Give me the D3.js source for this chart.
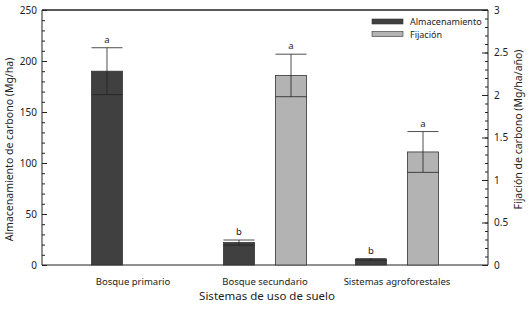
<!DOCTYPE html>
<html>
<head>
<meta charset="utf-8">
<script src="https://cdn.jsdelivr.net/npm/d3@7"></script>
<style>
  body { margin: 0; background: #fff; }
  svg text { font-family: "Noto Sans", sans-serif; fill: #222; }
</style>
</head>
<body>
<div id="chart"></div>
<script>
var categories = ["Bosque primario", "Bosque secundario", "Sistemas agroforestales"];
var series = ["Almacenamiento", "Fijación"];
var almacenamiento = [190, 22, 5.5];
var almacenamientoErr = [23, 2.5, 0.8];
var almacenamientoLetra = ["a", "b", "b"];
var fijacion = [null, 2.23, 1.33];
var fijacionErr = [null, 0.25, 0.24];
var fijacionLetra = [null, "a", "a"];
var leftTicks = [0, 50, 100, 150, 200, 250];
var rightTicks = [0, 0.5, 1, 1.5, 2, 2.5, 3];

var W = 528, H = 312;
var margin = {top: 10, right: 40, bottom: 47, left: 42},
    width = W - margin.left - margin.right,
    height = H - margin.top - margin.bottom;

var colors = {"Almacenamiento": "#404040", "Fijación": "#b3b3b3"};

var svg = d3.select("#chart")
    .append("svg")
    .attr("width", W)
    .attr("height", H)
    .append("g")
    .attr("transform", "translate(" + margin.left + "," + margin.top + ")");

var x0 = d3.scaleBand()
    .domain(categories)
    .range([0, width])
    .paddingInner(0.371)
    .paddingOuter(0.375);

var x1 = d3.scaleBand()
    .domain(series)
    .range([0, x0.bandwidth()])
    .paddingInner(0.404);

var yL = d3.scaleLinear().domain([0, 250]).range([height, 0]);
var yR = d3.scaleLinear().domain([0, 3]).range([height, 0]);

// minor ticks
svg.append("g")
    .call(d3.axisRight(yL).tickValues(d3.range(0, 251, 10)).tickSize(3).tickFormat(""))
    .call(function(g) { g.select(".domain").remove(); });
svg.append("g")
    .attr("transform", "translate(" + width + ",0)")
    .call(d3.axisLeft(yR).tickValues(d3.range(0, 31, 1).map(function(d) { return d / 10; })).tickSize(3).tickFormat(""))
    .call(function(g) { g.select(".domain").remove(); });

// major ticks + labels
var leftAxis = svg.append("g")
    .call(d3.axisRight(yL).tickValues(leftTicks).tickSize(5).tickFormat(d3.format("d")));
leftAxis.select(".domain").remove();
leftAxis.selectAll("text").attr("x", -5).attr("text-anchor", "end").style("font-size", "10px");

var rightAxis = svg.append("g")
    .attr("transform", "translate(" + width + ",0)")
    .call(d3.axisLeft(yR).tickValues(rightTicks).tickSize(6).tickFormat(function(d) { return String(d); }));
rightAxis.select(".domain").remove();
rightAxis.selectAll("text").attr("x", 6).attr("text-anchor", "start").style("font-size", "10px");

svg.selectAll(".tick line").attr("stroke", "#222");

// frame
svg.append("line").attr("x1", 0).attr("x2", 0).attr("y1", 0).attr("y2", height).attr("stroke", "#222");
svg.append("line").attr("x1", width).attr("x2", width).attr("y1", 0).attr("y2", height).attr("stroke", "#222");
svg.append("line").attr("x1", 0).attr("x2", width).attr("y1", 0).attr("y2", 0).attr("stroke", "#222").attr("stroke-width", 1.5);
svg.append("line").attr("x1", 0).attr("x2", width).attr("y1", height).attr("y2", height).attr("stroke", "#222");

// bars
var rows = [];
categories.forEach(function(c, i) {
    rows.push({cat: c, s: "Almacenamiento", v: almacenamiento[i], e: almacenamientoErr[i], l: almacenamientoLetra[i], y: yL});
    if (fijacion[i] != null)
        rows.push({cat: c, s: "Fijación", v: fijacion[i], e: fijacionErr[i], l: fijacionLetra[i], y: yR});
});

var bars = svg.selectAll(".bar")
    .data(rows)
    .enter()
    .append("g")
    .attr("class", "bar")
    .attr("transform", function(d) { return "translate(" + (x0(d.cat) + x1(d.s)) + ",0)"; });

bars.append("rect")
    .attr("x", 0)
    .attr("y", function(d) { return d.y(d.v); })
    .attr("width", x1.bandwidth())
    .attr("height", function(d) { return height - d.y(d.v); })
    .attr("fill", function(d) { return colors[d.s]; })
    .attr("stroke", "#333")
    .attr("stroke-width", 0.8);

var bw = x1.bandwidth();
bars.append("line")
    .attr("x1", bw / 2).attr("x2", bw / 2)
    .attr("y1", function(d) { return d.y(d.v + d.e); })
    .attr("y2", function(d) { return d.y(d.v - d.e); })
    .attr("stroke", "#222").attr("stroke-width", 0.8);
bars.append("line")
    .attr("x1", 0).attr("x2", bw)
    .attr("y1", function(d) { return d.y(d.v + d.e); })
    .attr("y2", function(d) { return d.y(d.v + d.e); })
    .attr("stroke", "#222").attr("stroke-width", 0.8);
bars.append("line")
    .attr("x1", 0).attr("x2", bw)
    .attr("y1", function(d) { return d.y(d.v - d.e); })
    .attr("y2", function(d) { return d.y(d.v - d.e); })
    .attr("stroke", "#222").attr("stroke-width", 0.8);

bars.append("text")
    .attr("x", bw / 2)
    .attr("y", function(d) { return d.y(d.v + d.e) - 5; })
    .attr("text-anchor", "middle")
    .style("font-size", "9.5px")
    .text(function(d) { return d.l; });

// category labels
svg.selectAll(".cat")
    .data(categories)
    .enter()
    .append("text")
    .attr("class", "cat")
    .attr("x", function(d) { return x0(d) + x0.bandwidth() / 2; })
    .attr("y", height + 20)
    .attr("text-anchor", "middle")
    .style("font-size", "9.5px")
    .text(function(d) { return d; });

// axis titles
svg.append("text")
    .attr("transform", "translate(" + (width / 2 + 2) + "," + (height + 35) + ")")
    .attr("text-anchor", "middle")
    .style("font-size", "11.5px")
    .text("Sistemas de uso de suelo");

svg.append("text")
    .attr("transform", "translate(" + (-29) + "," + (height / 2 + 12) + ") rotate(-90)")
    .attr("text-anchor", "middle")
    .style("font-size", "10.5px")
    .text("Almacenamiento de carbono (Mg/ha)");

svg.append("text")
    .attr("transform", "translate(" + (width + 34) + "," + (height / 2 - 8) + ") rotate(-90)")
    .attr("text-anchor", "middle")
    .style("font-size", "10.5px")
    .text("Fijación de carbono (Mg/ha/año)");

// legend
var legend = svg.selectAll(".legend")
    .data(series)
    .enter()
    .append("g")
    .attr("class", "legend")
    .attr("transform", function(d, i) { return "translate(" + (330) + "," + (9 + i * 12.5) + ")"; });
legend.append("rect")
    .attr("width", 31).attr("height", 5)
    .attr("fill", function(d) { return colors[d]; })
    .attr("stroke", "#333").attr("stroke-width", 0.6);
legend.append("text")
    .attr("x", 38).attr("y", 6)
    .style("font-size", "9px")
    .text(function(d) { return d; });
</script>
</body>
</html>
